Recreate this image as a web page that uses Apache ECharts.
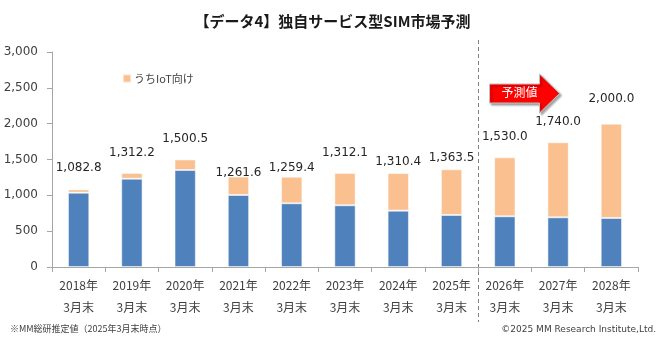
<!DOCTYPE html>
<html><head><meta charset="utf-8">
<script src="https://cdn.jsdelivr.net/npm/echarts@6/dist/echarts.min.js"></script>
<style>html,body{margin:0;padding:0;background:#fff}#c{width:665px;height:349px}</style>
</head><body><div id="c"></div>
<script>
// ---- data ----
const categories = ['2018年\n3月末','2019年\n3月末','2020年\n3月末','2021年\n3月末','2022年\n3月末','2023年\n3月末','2024年\n3月末','2025年\n3月末','2026年\n3月末','2027年\n3月末','2028年\n3月末'];
const otherValues = [1037, 1232, 1353, 1005, 889, 861, 786, 726, 707, 693, 684];
const iotValues = [45.8, 80.2, 147.5, 256.6, 370.4, 451.1, 524.4, 637.5, 823.0, 1047.0, 1316.0];
const totalValues = [1082.8, 1312.2, 1500.5, 1261.6, 1259.4, 1312.1, 1310.4, 1363.5, 1530.0, 1740.0, 2000.0];
const yMin = 0, yMax = 3000, yInterval = 500;
const iotName = 'うちIoT向け';
const otherName = 'その他';
const titleText = '【データ4】独自サービス型SIM市場予測';
const forecastText = '予測値';
const noteText = '※MM総研推定値（2025年3月末時点）';
const copyText = '©2025 MM Research Institute,Ltd.';

// ---- layout (label lift above bars, px) ----
const labelDist = [16, 14, 15, -2, 3, 14, 5, 5, 14, 14, 19];

const jp = '"Noto Sans CJK JP", sans-serif';
const num = '"DejaVu Sans", Verdana, sans-serif';
const fmt = v => v.toLocaleString('en-US', {minimumFractionDigits: 1, maximumFractionDigits: 1});

const chart = echarts.init(document.getElementById('c'), null, {renderer: 'canvas'});
chart.setOption({
  animation: false,
  backgroundColor: '#fff',
  title: {
    text: titleText, left: 'center', top: 9,
    textStyle: {fontFamily: jp, fontSize: 15, fontWeight: 'bold', color: '#1a1a1a'}
  },
  legend: {
    data: [iotName], left: 117, top: 68, itemWidth: 8, itemHeight: 8, itemGap: 4,
    icon: 'rect',
    textStyle: {fontFamily: jp, fontSize: 11, color: '#404040', padding: [0, 0, 0, -2]}
  },
  grid: {left: 52, right: 27, top: 52, bottom: 82},
  xAxis: {
    type: 'category', data: categories,
    axisLine: {lineStyle: {color: '#a6a6a6'}},
    axisTick: {show: true, length: 5, lineStyle: {color: '#a6a6a6'}},
    axisLabel: {fontFamily: jp, fontSize: 12, color: '#404040', lineHeight: 22, margin: 7, interval: 0}
  },
  yAxis: {
    type: 'value', min: yMin, max: yMax, interval: yInterval,
    splitLine: {show: false},
    axisLine: {show: true, lineStyle: {color: '#a6a6a6'}},
    axisTick: {show: true, length: 5, lineStyle: {color: '#a6a6a6'}},
    axisLabel: {fontFamily: num, fontSize: 12, color: '#404040', margin: 14,
      formatter: v => v.toLocaleString('en-US')}
  },
  series: [
    {
      name: otherName, type: 'bar', stack: 'all', barWidth: '40%',
      data: otherValues,
      itemStyle: {color: '#4F81BD', borderColor: 'rgba(255,255,255,0.5)', borderWidth: 1}
    },
    {
      name: iotName, type: 'bar', stack: 'all', barWidth: '40%',
      data: iotValues.map((v, i) => ({value: v, label: {distance: labelDist[i]}})),
      itemStyle: {color: '#FAC090', borderColor: 'rgba(255,255,255,0.5)', borderWidth: 1},
      label: {
        show: true, position: 'top',
        fontFamily: num, fontSize: 12, color: '#262626',
        formatter: p => fmt(totalValues[p.dataIndex])
      }
    }
  ]
});

// annotations positioned from the axes
const x25 = chart.convertToPixel({xAxisIndex: 0}, categories[7]);
const x26 = chart.convertToPixel({xAxisIndex: 0}, categories[8]);
const divX = Math.round((x25 + x26) / 2) + 0.5;
const ax = divX + 11, ay = 93.5;
chart.setOption({
  graphic: [
    {type: 'line', shape: {x1: divX, y1: 40, x2: divX, y2: 322},
     style: {stroke: '#808080', lineWidth: 1, lineDash: [4, 3]}},
    {type: 'polygon',
     shape: {points: [[ax, ay - 9.5], [ax + 50, ay - 9.5], [ax + 50, ay - 19.5], [ax + 70, ay], [ax + 50, ay + 19.5], [ax + 50, ay + 9.5], [ax, ay + 9.5]]},
     style: {fill: '#FF0000', stroke: '#bfbfbf', lineWidth: 1,
       shadowBlur: 2, shadowColor: 'rgba(0,0,0,0.35)', shadowOffsetX: 2, shadowOffsetY: 2}},
    {type: 'text', x: ax + 30, y: ay - 1, style: {text: forecastText, fill: '#fff', font: '12px "Noto Sans CJK JP"', textAlign: 'center', textVerticalAlign: 'middle'}},
    {type: 'text', left: 10, top: 324, style: {text: noteText, fill: '#404040', font: '9px "Noto Sans CJK JP"'}},
    {type: 'text', right: 9, top: 325, style: {text: copyText, fill: '#404040', font: '9px "DejaVu Sans"'}}
  ]
});
</script></body></html>
